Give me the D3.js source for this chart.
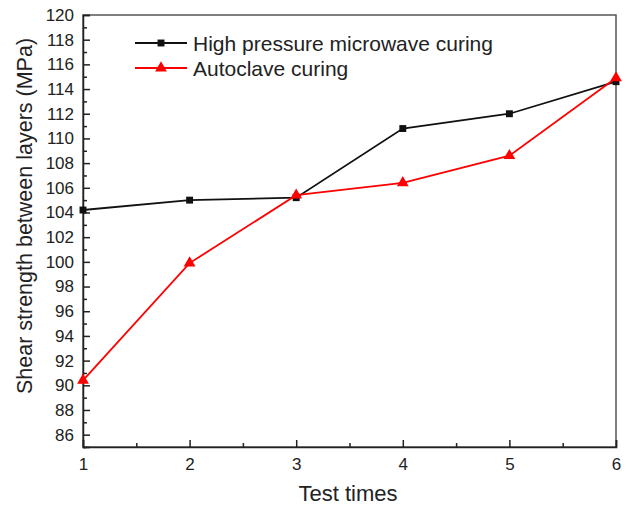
<!DOCTYPE html>
<html><head><meta charset="utf-8">
<script src="https://cdn.jsdelivr.net/npm/d3@7"></script>
<style>body{margin:0;background:#fff}svg{display:block}text{font-family:"Liberation Sans",Arial,sans-serif;fill:#222}</style>
</head><body><svg id="c" width="626" height="506"></svg>
<script>
const testTimes = [1, 2, 3, 4, 5, 6];
const highPressure = [104.2, 105.0, 105.2, 110.8, 112.0, 114.6];
const autoclave = [90.4, 99.9, 105.4, 106.4, 108.6, 114.9];
const seriesNames = ["High pressure microwave curing", "Autoclave curing"];
const yTicks = d3.range(86, 121, 2);

const svg = d3.select("#c");
const m = {l: 83, r: 616, t: 15, b: 447};
const x = d3.scaleLinear().domain([1, 6]).range([m.l, m.r]);
const y = d3.scaleLinear().domain([85, 120]).range([m.b, m.t]);

// box
svg.append("rect").attr("x", m.l).attr("y", m.t).attr("width", m.r - m.l).attr("height", m.b - m.t)
  .attr("fill", "none").attr("stroke", "#555").attr("stroke-width", 1.5);

// y axis
const yAx = svg.append("g").attr("transform", `translate(${m.l},0)`)
  .call(d3.axisLeft(y).tickValues(yTicks).tickSize(-7).tickPadding(9).tickFormat(d3.format("d")))
  .attr("font-size", 17).attr("font-family", null);
yAx.select(".domain").attr("stroke", "#222").attr("stroke-width", 1.5);
yAx.selectAll(".tick line").attr("stroke", "#222").attr("stroke-width", 1.5);
yAx.selectAll("text").style("font-size", "17px").attr("fill", "#222");
const yMin = svg.append("g").attr("transform", `translate(${m.l},0)`)
  .call(d3.axisLeft(y).tickValues(d3.range(85, 120, 2)).tickSize(-4).tickFormat(""));
yMin.select(".domain").remove();
yMin.selectAll(".tick line").attr("stroke", "#222").attr("stroke-width", 1.5);

// x axis
const xAx = svg.append("g").attr("transform", `translate(0,${m.b})`)
  .call(d3.axisBottom(x).tickValues(testTimes).tickSize(-7).tickPadding(11).tickFormat(d3.format("d")))
  .attr("font-size", 17).attr("font-family", null);
xAx.select(".domain").attr("stroke", "#222").attr("stroke-width", 1.5);
xAx.selectAll(".tick line").attr("stroke", "#222").attr("stroke-width", 1.5);
xAx.selectAll("text").style("font-size", "17px").attr("fill", "#222");
const xMin = svg.append("g").attr("transform", `translate(0,${m.b})`)
  .call(d3.axisBottom(x).tickValues([1.5, 2.5, 3.5, 4.5, 5.5]).tickSize(-4).tickFormat(""));
xMin.select(".domain").remove();
xMin.selectAll(".tick line").attr("stroke", "#222").attr("stroke-width", 1.5);

// labels
svg.append("text").attr("x", 348).attr("y", 501).attr("text-anchor", "middle")
  .style("font-size", "22px").text("Test times");
svg.append("text").attr("transform", `translate(32,216) rotate(-90)`).attr("text-anchor", "middle")
  .style("font-size", "21.5px").text("Shear strength between layers (MPa)");

const line = d3.line().x((d, i) => x(testTimes[i])).y(d => y(d));
const sym = d3.symbol();
const series = [
  {vals: highPressure, color: "#111", shape: d3.symbolSquare, size: 48},
  {vals: autoclave, color: "#f00", shape: d3.symbolTriangle, size: 60}
];
series.forEach(s => {
  svg.append("path").datum(s.vals).attr("d", line).attr("fill", "none")
    .attr("stroke", s.color).attr("stroke-width", 1.8);
});
series.forEach(s => {
  svg.selectAll(null).data(s.vals).enter().append("path")
    .attr("transform", (d, i) => `translate(${x(testTimes[i])},${y(d)})`)
    .attr("d", sym.type(s.shape).size(s.size)()).attr("fill", s.color);
});

// legend
series.forEach((s, i) => {
  const ly = 43 + i * 25;
  svg.append("line").attr("x1", 135).attr("x2", 187).attr("y1", ly).attr("y2", ly)
    .attr("stroke", s.color).attr("stroke-width", 1.8);
  svg.append("path").attr("transform", `translate(161,${ly})`)
    .attr("d", sym.type(s.shape).size(s.size)()).attr("fill", s.color);
  svg.append("text").attr("x", 193).attr("y", ly + 7.5).style("font-size", "21px").text(seriesNames[i]);
});
</script></body></html>
